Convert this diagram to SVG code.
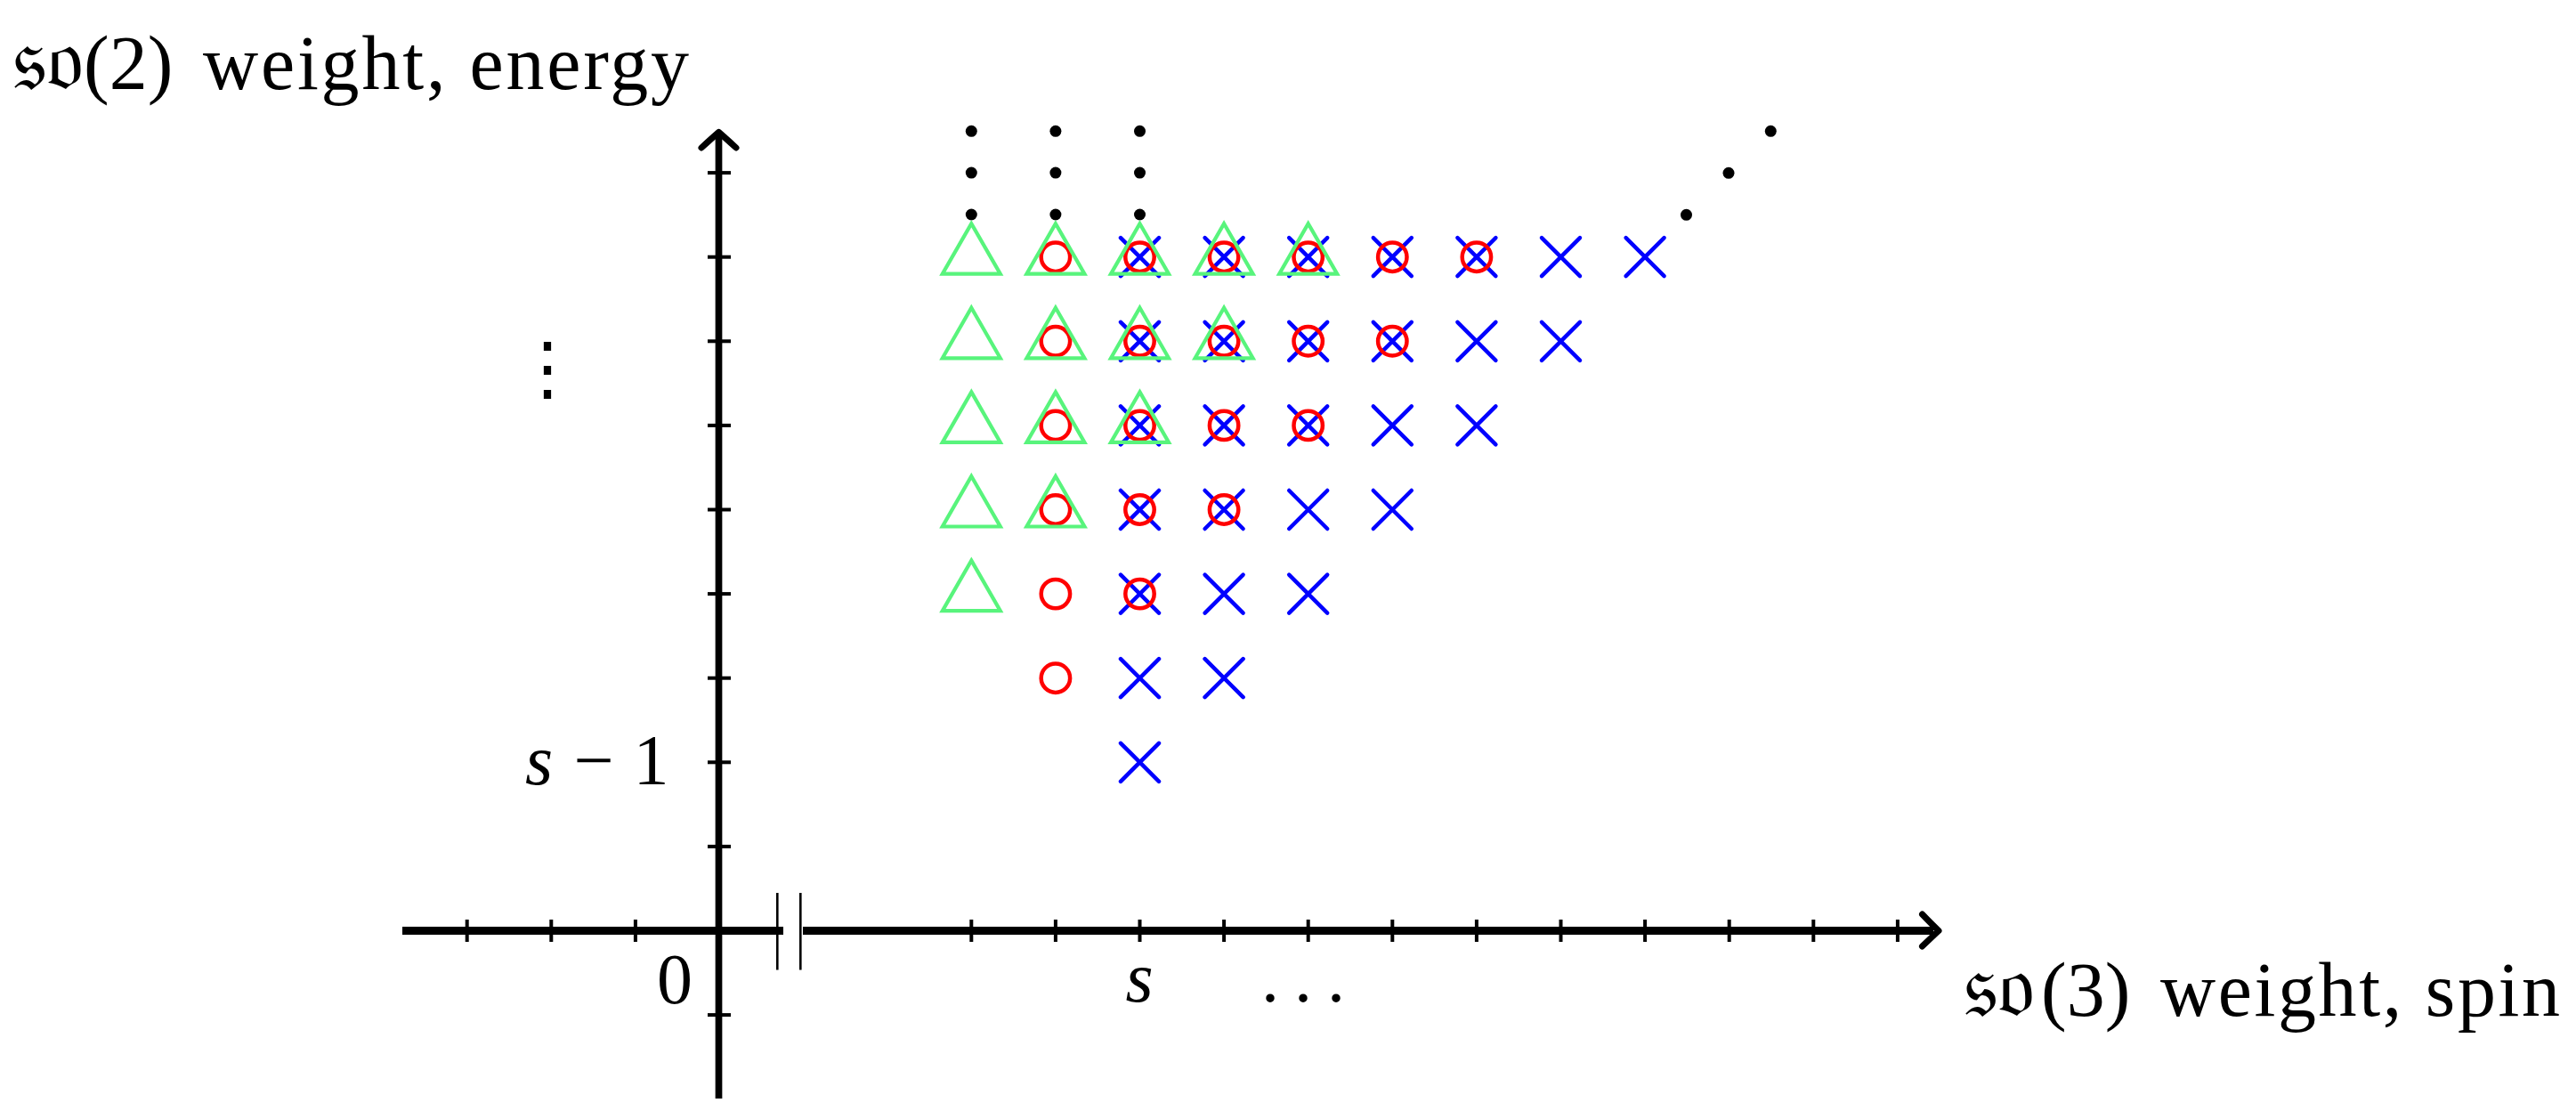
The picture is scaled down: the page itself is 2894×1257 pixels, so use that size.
<svg xmlns="http://www.w3.org/2000/svg" xmlns:xlink="http://www.w3.org/1999/xlink" width="2894" height="1257" viewBox="0 0 2894 1257">
<style>
.t{font-family:"Liberation Serif","Times New Roman",serif;font-size:80px;fill:#000}
.big{font-size:86px}
.it{font-style:italic}
.fr{font-family:"DejaVu Serif","DejaVu Sans","Noto Sans",serif;font-size:100px;fill:#000}
.ax{stroke:#000;fill:none}
.tk{stroke:#000;stroke-width:4}
.ah{stroke:#000;stroke-width:7;fill:none;stroke-linecap:round;stroke-linejoin:round}
</style>
<defs>
<path id="mx" d="M-21.5,-21.5L21.5,21.5M-21.5,21.5L21.5,-21.5" stroke="#0000ff" stroke-width="4.5" stroke-linecap="round" fill="none"/>
<circle id="mo" r="16.2" fill="none" stroke="#ff0000" stroke-width="4.5"/>
<path id="mt" d="M0,-37.5L32.5,19L-32.5,19Z" fill="none" stroke="#58f47c" stroke-width="4.2" stroke-linejoin="miter"/>
<circle id="dot" r="6.5" fill="#000"/>
</defs>
<rect width="2894" height="1257" fill="#fff"/>

<g id="axes">
<line class="ax" x1="807.5" y1="1234" x2="807.5" y2="152" stroke-width="7.7"/>
<path class="ah" d="M788,166 Q800,155 807.5,148.5 Q815,155 827,166"/>
<line class="ax" x1="452" y1="1045.5" x2="880" y2="1045.5" stroke-width="9"/>
<line class="ax" x1="902" y1="1045.5" x2="2172" y2="1045.5" stroke-width="9"/>
<path class="ah" d="M2159.5,1027 Q2170,1038 2178,1045.5 Q2170,1053 2159.5,1063"/>
<line stroke="#000" stroke-width="2.6" x1="873.3" y1="1003" x2="873.3" y2="1089.5"/>
<line stroke="#000" stroke-width="2.6" x1="899.3" y1="1003" x2="899.3" y2="1089.5"/>
</g>

<g id="ticks" class="tk">
<line x1="524.7" y1="1033" x2="524.7" y2="1058"/>
<line x1="619.3" y1="1033" x2="619.3" y2="1058"/>
<line x1="713.9" y1="1033" x2="713.9" y2="1058"/>
<line x1="1091.3" y1="1033" x2="1091.3" y2="1058"/>
<line x1="1185.9" y1="1033" x2="1185.9" y2="1058"/>
<line x1="1280.5" y1="1033" x2="1280.5" y2="1058"/>
<line x1="1375.1" y1="1033" x2="1375.1" y2="1058"/>
<line x1="1469.7" y1="1033" x2="1469.7" y2="1058"/>
<line x1="1564.3" y1="1033" x2="1564.3" y2="1058"/>
<line x1="1658.9" y1="1033" x2="1658.9" y2="1058"/>
<line x1="1753.5" y1="1033" x2="1753.5" y2="1058"/>
<line x1="1848.1" y1="1033" x2="1848.1" y2="1058"/>
<line x1="1942.7" y1="1033" x2="1942.7" y2="1058"/>
<line x1="2037.3" y1="1033" x2="2037.3" y2="1058"/>
<line x1="2131.9" y1="1033" x2="2131.9" y2="1058"/>
<line x1="795" y1="194.1" x2="821" y2="194.1"/>
<line x1="795" y1="288.7" x2="821" y2="288.7"/>
<line x1="795" y1="383.3" x2="821" y2="383.3"/>
<line x1="795" y1="477.9" x2="821" y2="477.9"/>
<line x1="795" y1="572.5" x2="821" y2="572.5"/>
<line x1="795" y1="667.1" x2="821" y2="667.1"/>
<line x1="795" y1="761.7" x2="821" y2="761.7"/>
<line x1="795" y1="856.3" x2="821" y2="856.3"/>
<line x1="795" y1="950.9" x2="821" y2="950.9"/>
<line x1="795" y1="1140.1" x2="821" y2="1140.1"/>
</g>

<g id="labels">
<text class="fr" x="14" y="100">𝔰𝔬</text>
<text class="t big" x="94" y="100">(2)</text>
<text class="t big" x="228" y="100" textLength="546" lengthAdjust="spacing">weight, energy</text>
<text class="fr" x="2206" y="1141">𝔰𝔬</text>
<text class="t big" x="2293" y="1141">(3)</text>
<text class="t big" x="2427" y="1141" textLength="449" lengthAdjust="spacing">weight, spin</text>
<text class="t it" x="590" y="880.5">s</text>
<text class="t" x="667" y="880.5" text-anchor="middle">−</text>
<text class="t" x="731.5" y="880.5" text-anchor="middle">1</text>
<text class="t" x="778" y="1126.5" text-anchor="end">0</text>
<text class="t it" x="1280" y="1125" text-anchor="middle">s</text>
<text class="t" x="1417" y="1125" letter-spacing="17">...</text>
<text class="t" x="615" y="441" text-anchor="middle" font-size="96">⋮</text>
</g>

<g id="dots">
<use href="#dot" x="1091.3" y="147.3"/><use href="#dot" x="1091.3" y="194.1"/><use href="#dot" x="1091.3" y="241"/>
<use href="#dot" x="1185.9" y="147.3"/><use href="#dot" x="1185.9" y="194.1"/><use href="#dot" x="1185.9" y="241"/>
<use href="#dot" x="1280.5" y="147.3"/><use href="#dot" x="1280.5" y="194.1"/><use href="#dot" x="1280.5" y="241"/>
<use href="#dot" x="1894.5" y="241.3"/><use href="#dot" x="1942" y="194.3"/><use href="#dot" x="1989.3" y="147.3"/>
</g>

<g id="spin-x">
<use href="#mx" x="1280.5" y="856.3"/>
<use href="#mx" x="1280.5" y="761.7"/><use href="#mx" x="1375.1" y="761.7"/>
<use href="#mx" x="1280.5" y="667.1"/><use href="#mx" x="1375.1" y="667.1"/><use href="#mx" x="1469.7" y="667.1"/>
<use href="#mx" x="1280.5" y="572.5"/><use href="#mx" x="1375.1" y="572.5"/><use href="#mx" x="1469.7" y="572.5"/><use href="#mx" x="1564.3" y="572.5"/>
<use href="#mx" x="1280.5" y="477.9"/><use href="#mx" x="1375.1" y="477.9"/><use href="#mx" x="1469.7" y="477.9"/><use href="#mx" x="1564.3" y="477.9"/><use href="#mx" x="1658.9" y="477.9"/>
<use href="#mx" x="1280.5" y="383.3"/><use href="#mx" x="1375.1" y="383.3"/><use href="#mx" x="1469.7" y="383.3"/><use href="#mx" x="1564.3" y="383.3"/><use href="#mx" x="1658.9" y="383.3"/><use href="#mx" x="1753.5" y="383.3"/>
<use href="#mx" x="1280.5" y="288.7"/><use href="#mx" x="1375.1" y="288.7"/><use href="#mx" x="1469.7" y="288.7"/><use href="#mx" x="1564.3" y="288.7"/><use href="#mx" x="1658.9" y="288.7"/><use href="#mx" x="1753.5" y="288.7"/><use href="#mx" x="1848.1" y="288.7"/>
</g>

<g id="spin-o">
<use href="#mo" x="1185.9" y="761.7"/>
<use href="#mo" x="1185.9" y="667.1"/><use href="#mo" x="1280.5" y="667.1"/>
<use href="#mo" x="1185.9" y="572.5"/><use href="#mo" x="1280.5" y="572.5"/><use href="#mo" x="1375.1" y="572.5"/>
<use href="#mo" x="1185.9" y="477.9"/><use href="#mo" x="1280.5" y="477.9"/><use href="#mo" x="1375.1" y="477.9"/><use href="#mo" x="1469.7" y="477.9"/>
<use href="#mo" x="1185.9" y="383.3"/><use href="#mo" x="1280.5" y="383.3"/><use href="#mo" x="1375.1" y="383.3"/><use href="#mo" x="1469.7" y="383.3"/><use href="#mo" x="1564.3" y="383.3"/>
<use href="#mo" x="1185.9" y="288.7"/><use href="#mo" x="1280.5" y="288.7"/><use href="#mo" x="1375.1" y="288.7"/><use href="#mo" x="1469.7" y="288.7"/><use href="#mo" x="1564.3" y="288.7"/><use href="#mo" x="1658.9" y="288.7"/>
</g>

<g id="spin-tri">
<use href="#mt" x="1091.3" y="667.1"/>
<use href="#mt" x="1091.3" y="572.5"/><use href="#mt" x="1185.9" y="572.5"/>
<use href="#mt" x="1091.3" y="477.9"/><use href="#mt" x="1185.9" y="477.9"/><use href="#mt" x="1280.5" y="477.9"/>
<use href="#mt" x="1091.3" y="383.3"/><use href="#mt" x="1185.9" y="383.3"/><use href="#mt" x="1280.5" y="383.3"/><use href="#mt" x="1375.1" y="383.3"/>
<use href="#mt" x="1091.3" y="288.7"/><use href="#mt" x="1185.9" y="288.7"/><use href="#mt" x="1280.5" y="288.7"/><use href="#mt" x="1375.1" y="288.7"/><use href="#mt" x="1469.7" y="288.7"/>
</g>
</svg>
